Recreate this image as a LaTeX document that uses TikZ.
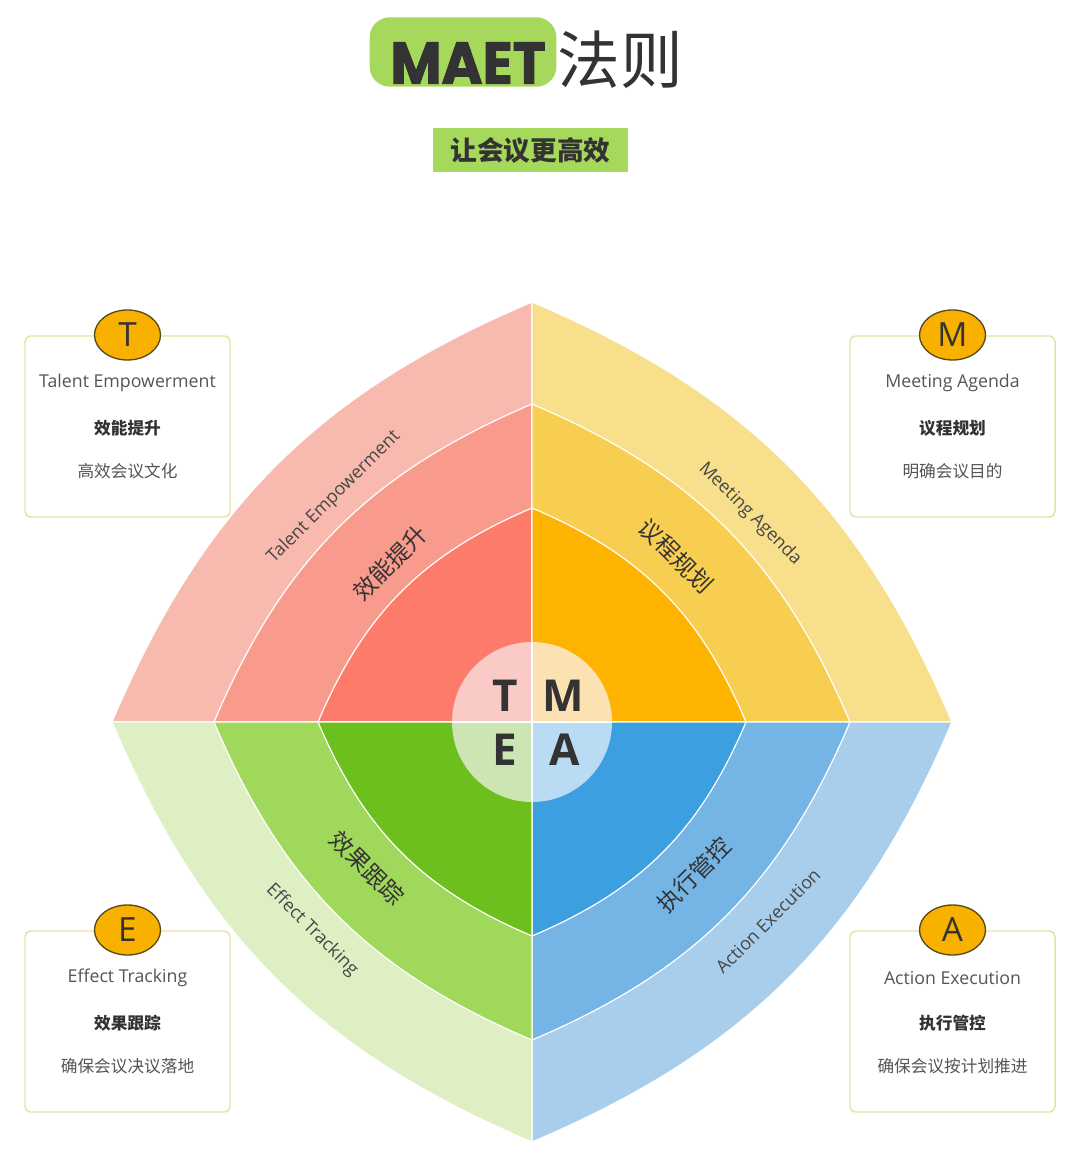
\documentclass[tikz,border=0pt]{standalone}
\usepackage{fontspec}
\setmainfont{Open Sans}
\newfontfamily\cjk{Noto Sans CJK SC}
\newfontfamily\heavy{Poppins}[BoldFeatures={FakeBold=1.6}]
\usetikzlibrary{calc,shapes.geometric}

% quadrant colours: outer / middle / inner band, centre disc
\definecolor{Tout}{HTML}{F8B9AE}
\definecolor{Tmid}{HTML}{F99B8C}
\definecolor{Tin}{HTML}{FC7B6B}
\definecolor{Tcir}{HTML}{F9CAC6}
\definecolor{Mout}{HTML}{F7DF8C}
\definecolor{Mmid}{HTML}{F8CE50}
\definecolor{Min}{HTML}{FDB300}
\definecolor{Mcir}{HTML}{FCE2B2}
\definecolor{Eout}{HTML}{DDEFC3}
\definecolor{Emid}{HTML}{A0D85C}
\definecolor{Ein}{HTML}{6DBF1E}
\definecolor{Ecir}{HTML}{CBE6B3}
\definecolor{Aout}{HTML}{A8CEEC}
\definecolor{Amid}{HTML}{74B5E6}
\definecolor{Ain}{HTML}{3C9FE0}
\definecolor{Acir}{HTML}{BADBF4}
\definecolor{titlegreen}{HTML}{A6D95B}
\definecolor{cardline}{HTML}{E6E2A4}
\definecolor{badgefill}{HTML}{F9B100}
\definecolor{badgeline}{HTML}{5A4A1A}
\definecolor{darktext}{HTML}{333333}
\definecolor{graytext}{HTML}{555555}

\begin{document}
\begin{tikzpicture}[x=0.75pt, y=-0.75pt,
  band/.style={draw=white, line width=0.9pt},
  card/.style={draw=cardline, line width=1.1pt, rounded corners=4pt, fill=white,
               minimum width=153.75pt, minimum height=135.75pt},
  badge/.style={ellipse, draw=badgeline, fill=badgefill, line width=1pt,
                minimum width=49.5pt, minimum height=37.5pt, inner sep=0pt,
                font=\fontsize{25}{25}\selectfont, text=darktext},
  entext/.style={font=\fontsize{13.3}{14}\selectfont, text=graytext},
  cnbold/.style={font=\cjk\bfseries\fontsize{12.5}{14}\selectfont, text=darktext},
  cntext/.style={font=\cjk\fontsize{12.5}{14}\selectfont, text=graytext},
  bandtxt/.style={font=\fontsize{13.5}{14}\selectfont, text=darktext!90},
  bandcn/.style={font=\cjk\fontsize{17.5}{18}\selectfont, text=darktext},
  letter/.style={font=\bfseries\fontsize{33}{33}\selectfont, text=darktext},
]
  \useasboundingbox[fill=white] (0,0) rectangle (1080,1176);

  % --- title ---
  \node[fill=titlegreen, rounded corners=15pt, minimum width=140pt,
        minimum height=52pt] (titlebg) at (463,52) {};
  \node[text=darktext, font=\heavy\bfseries\fontsize{44}{44}\selectfont,
        xscale=0.95] (maet) at (468,63) {MAET};
  \node[text=darktext, font=\cjk\fontsize{47}{47}\selectfont] (rule) at (620,60) {法则};
  \node[fill=titlegreen, minimum width=146pt, minimum height=33pt, text=darktext,
        font=\cjk\bfseries\fontsize{20}{20}\selectfont] (sub) at (530.5,150) {让会议更高效};

  % --- four quadrants, three bands each ---
  \coordinate (c) at (532,722);
  \foreach \q/\ax/\ay/\bx/\by in {T/-1/0/0/-1, M/0/-1/1/0, A/1/0/0/1, E/0/1/-1/0} {
    \foreach \r/\band in {420/out, 318/mid, 214/in} {
      \fill[band, fill=\q\band] (c) -- ++(\ax*\r,\ay*\r)
        to[bend left=22] ($(c)+(\bx*\r,\by*\r)$) -- cycle;
    }
  }

  % centre disc
  \foreach \q/\sx/\sy in {T/-1/-1, M/1/-1, A/1/1, E/-1/1} {
    \begin{scope}
      \clip (c) rectangle ++(\sx*90,\sy*90);
      \fill[fill=\q cir] (c) circle[radius=80];
    \end{scope}
  }
  \draw[white, line width=0.9pt] ($(c)+(-80,0)$) -- ($(c)+(80,0)$);
  \draw[white, line width=0.9pt] ($(c)+(0,-80)$) -- ($(c)+(0,80)$);

  \node[letter] (lt) at (505,696) {T};
  \node[letter] (lm) at (563,696) {M};
  \node[letter] (le) at (505,750) {E};
  \node[letter] (la) at (565,750) {A};

  % labels on the bands
  \node[bandtxt, rotate=45]  (bandT) at (334,497) {Talent Empowerment};
  \node[bandcn, rotate=45]   (coreT) at (390,563) {效能提升};
  \node[bandtxt, rotate=-45] (bandM) at (750,514) {Meeting Agenda};
  \node[bandcn, rotate=-45]  (coreM) at (676,556) {议程规划};
  \node[bandtxt, rotate=-45] (bandE) at (312,930) {Effect Tracking};
  \node[bandcn, rotate=-45]  (coreE) at (367,868) {效果跟踪};
  \node[bandtxt, rotate=45]  (bandA) at (768,921) {Action Execution};
  \node[bandcn, rotate=45]   (coreA) at (694,875) {执行管控};

  % --- corner cards ---
  \foreach \q/\x/\y/\en/\cn/\desc in {
      T/127.5/336/Talent Empowerment/效能提升/高效会议文化,
      M/952.5/336/Meeting Agenda/议程规划/明确会议目的,
      E/127.5/931/Effect Tracking/效果跟踪/确保会议决议落地,
      A/952.5/931/Action Execution/执行管控/确保会议按计划推进} {
    \node[card] (card\q) at (\x,\y+90.5) {};
    \node[badge] (badge\q) at (\x,\y-1) {\q};
    \node[entext] (en\q) at (\x,\y+47) {\en};
    \node[cnbold] (cn\q) at (\x,\y+92) {\cn};
    \node[cntext] (desc\q) at (\x,\y+135) {\desc};
  }
\end{tikzpicture}
\end{document}
